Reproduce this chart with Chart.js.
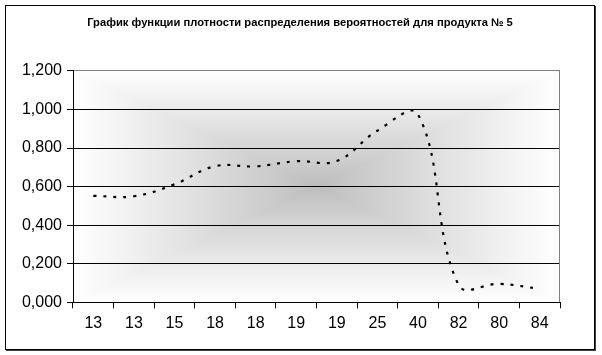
<!DOCTYPE html>
<html>
<head>
<meta charset="utf-8">
<script src="https://cdn.jsdelivr.net/npm/chart.js@4.4.1/dist/chart.umd.min.js"></script>
<style>
  html, body { margin: 0; padding: 0; background: #ffffff; }
  #frame {
    position: absolute; left: 5px; top: 5px;
    width: 588px; height: 343px;
    border: 1px solid #000;
    box-shadow: 1px 1px 0 #404040;
    background: #fff;
  }
  canvas { display: block; }
</style>
</head>
<body>
<div id="frame"><canvas id="c" width="588" height="343"></canvas></div>
<script>
// ---- data ----
const titleText = 'График функции плотности распределения вероятностей для продукта № 5';
const categories = ['13', '13', '15', '18', '18', '19', '19', '25', '40', '82', '80', '84'];
const density = [0.552, 0.550, 0.612, 0.706, 0.705, 0.732, 0.733, 0.890, 0.975, 0.090, 0.096, 0.070];
const yMin = 0;
const yMax = 1.2;
const yStep = 0.2;

const FONT = "'Liberation Sans', Arial, sans-serif";

// plot-area background: rectangular "from center" gradient (grey centre -> white edges)
const plotBackground = {
  id: 'plotBackground',
  beforeDraw(chart) {
    const a = chart.chartArea;
    const ctx = chart.ctx;
    const x0 = Math.round(a.left), y0 = Math.round(a.top);
    const w = Math.round(a.right) - x0, h = Math.round(a.bottom) - y0;
    const img = ctx.createImageData(w, h);
    const cx = w / 2, cy = h / 2;
    const c0 = 188;
    for (let y = 0; y < h; y++) {
      const ty = Math.abs(y + 0.5 - cy) / cy;
      for (let x = 0; x < w; x++) {
        const tx = Math.abs(x + 0.5 - cx) / cx;
        const t = Math.min(1, Math.max(tx, ty));
        const v = Math.round(c0 + (255 - c0) * Math.pow(t, 0.9));
        const i = (y * w + x) * 4;
        img.data[i] = v; img.data[i + 1] = v; img.data[i + 2] = v; img.data[i + 3] = 255;
      }
    }
    ctx.putImageData(img, x0, y0);
  },
  beforeDatasetsDraw(chart) {
    const a = chart.chartArea;
    const ctx = chart.ctx;
    ctx.save();
    ctx.strokeStyle = '#808080';
    ctx.lineWidth = 1;
    ctx.beginPath();
    ctx.moveTo(Math.round(a.right) - 0.5, Math.round(a.top));
    ctx.lineTo(Math.round(a.right) - 0.5, Math.round(a.bottom));
    ctx.stroke();
    ctx.restore();
  }
};

new Chart(document.getElementById('c'), {
  type: 'line',
  data: {
    labels: categories,
    datasets: [{
      data: density,
      borderColor: '#000',
      borderWidth: 2.2,
      borderDash: [3, 7],
      tension: 0.4,
      pointRadius: 0,
      fill: false
    }]
  },
  plugins: [plotBackground],
  options: {
    responsive: false,
    devicePixelRatio: 1,
    animation: false,
    layout: { padding: 0 },
    plugins: {
      legend: { display: false },
      tooltip: { enabled: false },
      title: {
        display: true,
        text: titleText,
        color: '#000',
        font: { family: FONT, size: 11.2, weight: 'bold' },
        padding: { top: 10, bottom: 41.5 }
      }
    },
    scales: {
      x: {
        offset: true,
        grid: {
          offset: true,
          drawOnChartArea: false,
          drawTicks: true,
          tickLength: 6,
          color: '#000'
        },
        border: { color: '#000', width: 1 },
        ticks: {
          autoSkip: false,
          maxRotation: 0,
          color: '#000',
          padding: 6,
          font: { family: FONT, size: 16 }
        },
        afterFit(s) { s.height = 46.7; }
      },
      y: {
        min: yMin,
        max: yMax,
        grid: {
          color: (c) => (c.tick && Math.abs(c.tick.value - yMax) < 1e-6 ? '#808080' : '#000'),
          tickColor: '#000',
          tickLength: 6,
          lineWidth: 1
        },
        border: { color: '#000', width: 1 },
        ticks: {
          stepSize: yStep,
          color: '#000',
          padding: 5,
          font: { family: FONT, size: 16 },
          callback: (v) => Number(v).toFixed(3).replace('.', ',')
        },
        afterFit(s) { s.width = 67; }
      },
      spacer: {
        position: 'right',
        axis: 'y',
        display: true,
        grid: { display: false, drawTicks: false },
        border: { display: false },
        ticks: { display: false },
        afterFit(s) { s.width = 34; }
      }
    }
  }
});
</script>
</body>
</html>
